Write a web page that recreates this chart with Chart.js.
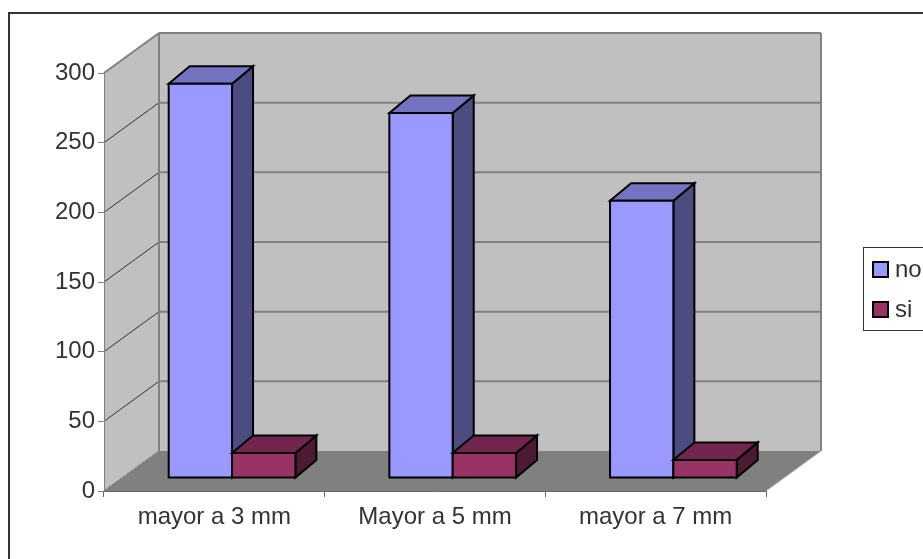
<!DOCTYPE html>
<html>
<head>
<meta charset="utf-8">
<script src="https://cdn.jsdelivr.net/npm/chart.js@4.4.1/dist/chart.umd.min.js"></script>
<style>
  html, body { margin: 0; padding: 0; background: #fff; }
  #wrap { width: 923px; height: 559px; }
</style>
</head>
<body>
<div id="wrap"><canvas id="myChart" width="923" height="559"></canvas></div>
<script>
// chart data
const categories = ['mayor a 3 mm', 'Mayor a 5 mm', 'mayor a 7 mm'];
const seriesNames = ['no', 'si'];
const noValues = [283, 262, 199];
const siValues = [18, 18, 13];
const yTicks = [0, 50, 100, 150, 200, 250, 300];

// face colours: front, top, side
const palette = [
  ['#9999ff', '#7373bf', '#4c4c80'],
  ['#993366', '#73264d', '#4d1a33'],
];

// fake 3d offsets
const DEPTH = { x: 55, y: -40 };
const BAR_OFF = { x: 17.7, y: -13 };
const BAR_DEPTH = { x: 21, y: -17.5 };
const FONT = '24px "Liberation Sans", Arial, sans-serif';
const TEXT = '#333333';

function poly(ctx, pts, fill, stroke, lw) {
  ctx.beginPath();
  ctx.moveTo(pts[0][0], pts[0][1]);
  for (let i = 1; i < pts.length; i++) ctx.lineTo(pts[i][0], pts[i][1]);
  ctx.closePath();
  if (fill) { ctx.fillStyle = fill; ctx.fill(); }
  if (stroke) { ctx.strokeStyle = stroke; ctx.lineWidth = lw || 1; ctx.lineJoin = 'miter'; ctx.stroke(); }
}

function line(ctx, x1, y1, x2, y2, color, lw) {
  ctx.beginPath();
  ctx.moveTo(x1, y1);
  ctx.lineTo(x2, y2);
  ctx.strokeStyle = color;
  ctx.lineWidth = lw;
  ctx.stroke();
}

const box3d = {
  id: 'box3d',
  beforeDraw(chart) {
    const ctx = chart.ctx;
    const { left, right, top, bottom } = chart.chartArea;
    const yScale = chart.scales.y;
    ctx.save();
    ctx.fillStyle = '#fff';
    ctx.fillRect(0, 0, chart.width, chart.height);

    // outer frame
    ctx.strokeStyle = '#333';
    ctx.lineWidth = 2;
    ctx.strokeRect(9, 13, 1000, 1000);

    // walls
    poly(ctx, [[left, bottom], [left, top], [left + DEPTH.x, top + DEPTH.y], [left + DEPTH.x, bottom + DEPTH.y]], '#c0c0c0');
    poly(ctx, [[left + DEPTH.x, top + DEPTH.y], [right + DEPTH.x, top + DEPTH.y], [right + DEPTH.x, bottom + DEPTH.y], [left + DEPTH.x, bottom + DEPTH.y]], '#c0c0c0');
    poly(ctx, [[left, bottom], [right, bottom], [right + DEPTH.x, bottom + DEPTH.y], [left + DEPTH.x, bottom + DEPTH.y]], '#808080');

    // grid lines
    yTicks.forEach((v) => {
      const py = yScale.getPixelForValue(v);
      if (v > 0) line(ctx, left + DEPTH.x, py + DEPTH.y, right + DEPTH.x, py + DEPTH.y, '#808080', 2);
      line(ctx, left, py, left + DEPTH.x, py + DEPTH.y, v === 300 ? '#808080' : '#333', v === 300 ? 2 : 1);
    });
    line(ctx, left + DEPTH.x, top + DEPTH.y, left + DEPTH.x, bottom + DEPTH.y, '#808080', 2);
    line(ctx, right + DEPTH.x, top + DEPTH.y, right + DEPTH.x, bottom + DEPTH.y, '#808080', 2);
    line(ctx, right, bottom, right + DEPTH.x, bottom + DEPTH.y, '#b0b0b0', 1);
    line(ctx, left, bottom, left + DEPTH.x, bottom + DEPTH.y, '#a0a0a0', 1);
    ctx.restore();
  },
  afterDatasetsDraw(chart) {
    const ctx = chart.ctx;
    ctx.save();
    // draw per category, series in order
    for (let i = 0; i < categories.length; i++) {
      chart.data.datasets.forEach((ds, d) => {
        const bar = chart.getDatasetMeta(d).data[i];
        const [front, topC, side] = palette[d];
        const L = bar.x - bar.width / 2 + BAR_OFF.x;
        const R = bar.x + bar.width / 2 + BAR_OFF.x;
        const T = bar.y + BAR_OFF.y;
        const B = bar.base + BAR_OFF.y;
        const dx = BAR_DEPTH.x, dy = BAR_DEPTH.y;
        poly(ctx, [[R, T], [R + dx, T + dy], [R + dx, B + dy], [R, B]], side, '#000', 2);
        poly(ctx, [[L, T], [R, T], [R + dx, T + dy], [L + dx, T + dy]], topC, '#000', 2);
        poly(ctx, [[L, T], [R, T], [R, B], [L, B]], front, '#000', 2);
      });
    }

    // legend
    ctx.fillStyle = '#fff';
    ctx.fillRect(863.5, 247.5, 100, 83);
    ctx.strokeStyle = '#333';
    ctx.lineWidth = 1;
    ctx.strokeRect(863.5, 247.5, 100, 83);
    ctx.font = FONT;
    ctx.textBaseline = 'middle';
    ctx.textAlign = 'left';
    seriesNames.forEach((name, d) => {
      const cy = 269 + d * 40;
      ctx.fillStyle = palette[d][0];
      ctx.fillRect(873, cy - 7, 15, 15);
      ctx.strokeStyle = '#000';
      ctx.lineWidth = 2;
      ctx.strokeRect(873, cy - 7, 15, 15);
      ctx.fillStyle = TEXT;
      ctx.fillText(name, 895, cy + 1);
    });
    ctx.restore();
  },
};

const ctx = document.getElementById('myChart').getContext('2d');
new Chart(ctx, {
  type: 'bar',
  data: {
    labels: categories,
    datasets: [
      { label: seriesNames[0], data: noValues, backgroundColor: 'rgba(0,0,0,0)', borderWidth: 0 },
      { label: seriesNames[1], data: siValues, backgroundColor: 'rgba(0,0,0,0)', borderWidth: 0 },
    ],
  },
  options: {
    responsive: false,
    animation: false,
    devicePixelRatio: 1,
    categoryPercentage: 0.574,
    barPercentage: 1,
    layout: { padding: { left: 0, right: 157, top: 73, bottom: 0 } },
    plugins: { legend: { display: false }, tooltip: { enabled: false } },
    scales: {
      x: {
        grid: { offset: true, drawOnChartArea: false, tickLength: 6, color: '#666' },
        border: { color: '#666', width: 1 },
        ticks: { font: { family: '"Liberation Sans", Arial, sans-serif', size: 24 }, color: TEXT, padding: 6, maxRotation: 0 },
        afterFit: (s) => { s.height = 68; },
      },
      y: {
        min: 0,
        max: 300,
        afterBuildTicks: (s) => { s.ticks = yTicks.map((v) => ({ value: v })); },
        grid: { drawOnChartArea: false, tickLength: 6, color: '#808080' },
        border: { color: '#808080', width: 1 },
        ticks: { font: { family: '"Liberation Sans", Arial, sans-serif', size: 24 }, color: TEXT, padding: 3 },
        afterFit: (s) => { s.width = 104; },
      },
    },
  },
  plugins: [box3d],
});
</script>
</body>
</html>
